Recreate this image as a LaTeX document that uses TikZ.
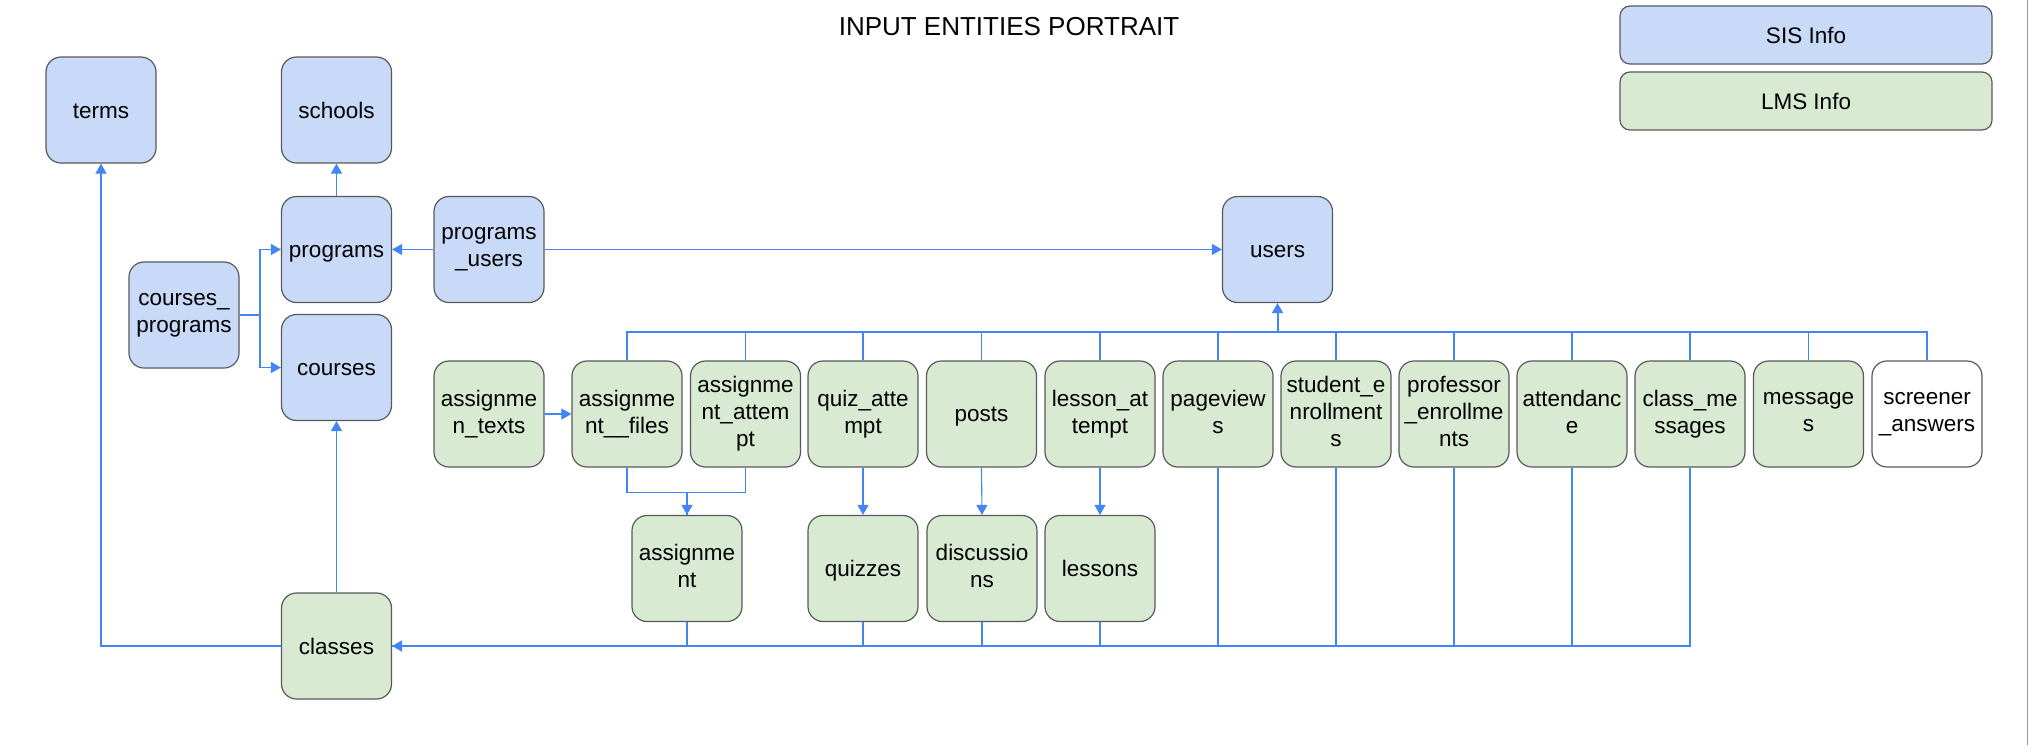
\documentclass[tikz,border=0pt]{standalone}
\usepackage{fontspec}
\setmainfont{Liberation Sans}
\usetikzlibrary{arrows.meta}
\definecolor{sisfill}{HTML}{C9DAF8}
\definecolor{lmsfill}{HTML}{D9EAD3}
\definecolor{edgec}{HTML}{595959}
\definecolor{linec}{HTML}{4285F4}
\newcommand{\boxstrut}{\rule[-4.5pt]{0pt}{25pt}}
\begin{document}
\begin{tikzpicture}[x=1pt,y=-1pt,
  ent/.style={draw=edgec, line width=1.2pt, rounded corners=15pt, minimum width=110pt, minimum height=106pt, inner sep=0pt, align=center, font=\fontsize{22.5}{27}\selectfont, execute at begin node={\boxstrut}, execute at end node={\boxstrut}},
  sisbox/.style={ent, fill=sisfill},
  lmsbox/.style={ent, fill=lmsfill},
  whitebox/.style={ent, fill=white},
  legend/.style={ent, minimum width=372pt, minimum height=58pt, rounded corners=10pt},
  conn/.style={draw=linec, line width=1.1pt},
  trunk/.style={draw=linec, line width=2pt},
  arr/.style={conn, -{Triangle[length=10pt,width=11pt]}},
  tarr/.style={trunk, -{Triangle[length=10pt,width=11pt]}},
]
\useasboundingbox (0,0) rectangle (2029,745);
\draw[draw=black!40, line width=1pt] (2027.5,0) -- (2027.5,745);

% title and legend
\node[font=\fontsize{26}{30}\selectfont] (title) at (1009,27) {INPUT ENTITIES PORTRAIT};
\node[legend, fill=sisfill] (sis) at (1806,35) {SIS Info};
\node[legend, fill=lmsfill] (lms) at (1806,101) {LMS Info};

% SIS entities
\node[sisbox] (terms) at (101,110) {terms};
\node[sisbox] (schools) at (336.5,110) {schools};
\node[sisbox] (programs) at (336.5,249.5) {programs};
\node[sisbox] (pu) at (489,249.5) {programs\\\_users};
\node[sisbox] (cp) at (184,315) {courses\_\\programs};
\node[sisbox] (courses) at (336.5,367.5) {courses};
\node[sisbox] (users) at (1277.5,249.5) {users};

% LMS entities
\node[lmsbox] (classes) at (336.5,646) {classes};
\node[lmsbox] (atexts) at (489,414) {assignme\\n\_texts};
\node[lmsbox] (afiles) at (627,414) {assignme\\nt\_\_files};
\node[lmsbox] (aatt) at (745.5,414) {assignme\\nt\_attem\\pt};
\node[lmsbox] (qatt) at (863,414) {quiz\_atte\\mpt};
\node[lmsbox] (posts) at (981.5,414) {posts};
\node[lmsbox] (latt) at (1100,414) {lesson\_at\\tempt};
\node[lmsbox] (pview) at (1218,414) {pageview\\s};
\node[lmsbox] (senr) at (1336,414) {student\_e\\nrollment\\s};
\node[lmsbox] (penr) at (1454,414) {professor\\\_enrollme\\nts};
\node[lmsbox] (att) at (1572,414) {attendanc\\e};
\node[lmsbox] (cmsg) at (1690,414) {class\_me\\ssages};
\node[lmsbox] (msg) at (1808.5,414) {message\\s};
\node[whitebox] (scr) at (1927,414) {screener\\\_answers};

\node[lmsbox] (asg) at (687,568.5) {assignme\\nt};
\node[lmsbox] (quiz) at (863,568.5) {quizzes};
\node[lmsbox] (disc) at (982,568.5) {discussio\\ns};
\node[lmsbox] (less) at (1100,568.5) {lessons};

% coordinates
\coordinate (jcp) at (260,315);
\coordinate (ub) at (1277.5,332);

% SIS connectors
\draw[arr] (programs.north) -- (schools.south);
\draw[arr] (classes.west) -| (terms.south);
\draw[arr] (classes.north) -- (courses.south);
\draw[conn] (cp.east) -- (jcp);
\draw[arr] (jcp) |- (programs.west);
\draw[arr] (jcp) |- (courses.west);
\draw[arr] (pu.west) -- (programs.east);
\draw[arr] (pu.east) -- (users.west);

% top bus to users
\foreach \n in {afiles,aatt,qatt,posts,latt,pview,senr,penr,att,cmsg,msg,scr}
  \draw[conn] (\n.north) |- (ub);
\draw[trunk] (afiles.north |- ub) -- (scr.north |- ub);
\draw[tarr] (ub) -- (users.south);

% assignment links
\draw[arr] (atexts.east) -- (afiles.west);
\draw[conn] (afiles.south) -- ++(0,25) -| (asg.north);
\draw[arr] (aatt.south) -- ++(0,25) -| (asg.north);
\draw[arr] (qatt.south) -- (quiz.north);
\draw[arr] (posts.south) -- (disc.north);
\draw[arr] (latt.south) -- (less.north);

% bottom bus to classes
\foreach \n in {asg,quiz,disc,less,pview,senr,penr,att}
  \draw[conn] (\n.south) |- (classes.east);
\draw[conn] (cmsg.south) |- (classes.east);
\draw[tarr] (cmsg.south |- classes.east) -- (classes.east);
\end{tikzpicture}
\end{document}
